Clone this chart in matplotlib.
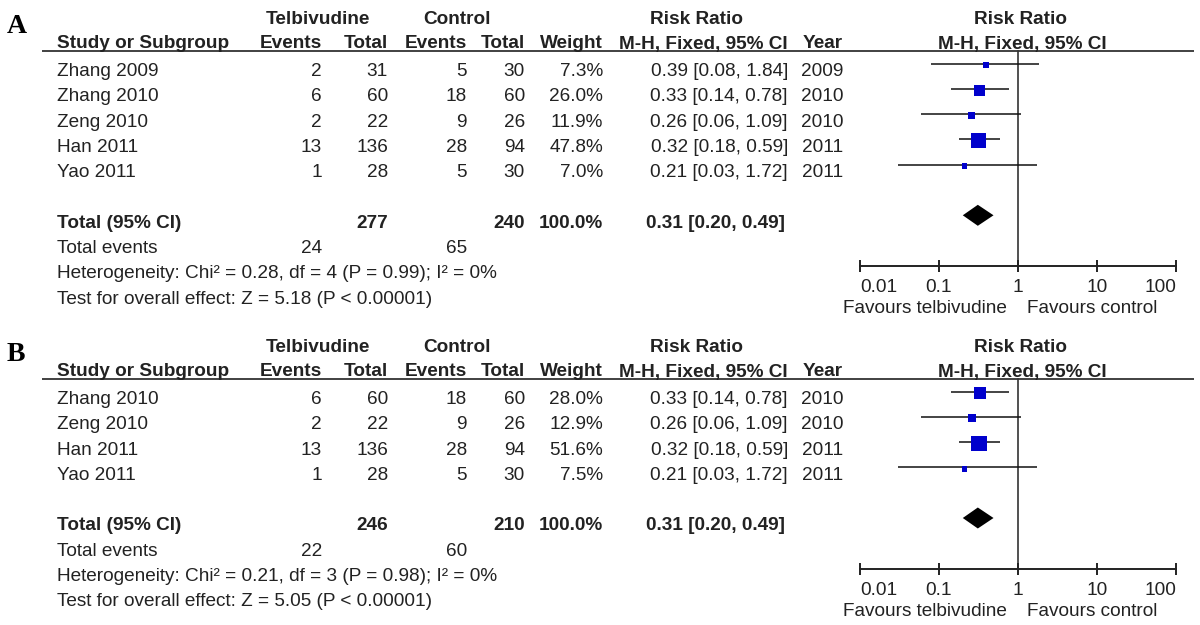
import numpy as np
import matplotlib
matplotlib.use("Agg")
import matplotlib.pyplot as plt
from matplotlib.ticker import FixedLocator, FixedFormatter, NullLocator

plt.rcParams['font.family'] = ['Liberation Sans', 'DejaVu Sans']

# Panel A data
a_studies = ["Zhang 2009", "Zhang 2010", "Zeng 2010", "Han 2011", "Yao 2011"]
a_tel_events = [2, 6, 2, 13, 1]
a_tel_total = [31, 60, 22, 136, 28]
a_ctl_events = [5, 18, 9, 28, 5]
a_ctl_total = [30, 60, 26, 94, 30]
a_weight = [7.3, 26.0, 11.9, 47.8, 7.0]
a_rr = [0.39, 0.33, 0.26, 0.32, 0.21]
a_lo = [0.08, 0.14, 0.06, 0.18, 0.03]
a_hi = [1.84, 0.78, 1.09, 0.59, 1.72]
a_year = [2009, 2010, 2010, 2011, 2011]
a_totals = [277, 240]
a_total_events = [24, 65]
a_pooled = [0.31, 0.20, 0.49]
a_het = "Heterogeneity: Chi² = 0.28, df = 4 (P = 0.99); I² = 0%"
a_test = "Test for overall effect: Z = 5.18 (P < 0.00001)"

# Panel B data
b_studies = ["Zhang 2010", "Zeng 2010", "Han 2011", "Yao 2011"]
b_tel_events = [6, 2, 13, 1]
b_tel_total = [60, 22, 136, 28]
b_ctl_events = [18, 9, 28, 5]
b_ctl_total = [60, 26, 94, 30]
b_weight = [28.0, 12.9, 51.6, 7.5]
b_rr = [0.33, 0.26, 0.32, 0.21]
b_lo = [0.14, 0.06, 0.18, 0.03]
b_hi = [0.78, 1.09, 0.59, 1.72]
b_year = [2010, 2010, 2011, 2011]
b_totals = [246, 210]
b_total_events = [22, 60]
b_pooled = [0.31, 0.20, 0.49]
b_het = "Heterogeneity: Chi² = 0.21, df = 3 (P = 0.98); I² = 0%"
b_test = "Test for overall effect: Z = 5.05 (P < 0.00001)"

tick_vals = [0.01, 0.1, 1, 10, 100]
tick_labels = ["0.01", "0.1", "1", "10", "100"]

W, H = 1200, 625
ROW0 = 63.5   # px from panel top to first study row
DY = 25.3     # px per row
TXT = 12.5 / DY  # text baseline below row line
FS = 13.65
COL = '#222222'

fig = plt.figure(figsize=(12, 6.25), dpi=100)


def draw_panel(letter, top_px, h_px, studies, te, tt, ce, ct, weight, rr, lo, hi,
               year, totals, tot_ev, pooled, het, test):
    n = len(studies)
    ylim = ((h_px - ROW0) / DY, -ROW0 / DY)
    pos_y = 1 - (top_px + h_px) / H
    head = -12.5 / DY  # header line

    # table axes, x in pixels, y in rows
    tb = fig.add_axes([0, pos_y, 1, h_px / H])
    tb.set_xlim(0, W)
    tb.set_ylim(*ylim)
    tb.axis('off')

    tb.text(7, -30.5 / DY, letter, fontsize=20, fontweight='bold',
            family='Liberation Serif', va='baseline', color='black')

    hb = dict(fontsize=FS, fontweight='bold', color=COL, va='baseline')
    r1 = -39.5 / DY
    r2 = -15.0 / DY
    tb.text(318, r1, "Telbivudine", ha='center', **hb)
    tb.text(457, r1, "Control", ha='center', **hb)
    tb.text(697, r1, "Risk Ratio", ha='center', **hb)
    tb.text(1020, r1, "Risk Ratio", ha='center', **hb)
    tb.text(57, r2, "Study or Subgroup", ha='left', **hb)
    tb.text(322, r2, "Events", ha='right', **hb)
    tb.text(388, r2, "Total", ha='right', **hb)
    tb.text(467, r2, "Events", ha='right', **hb)
    tb.text(525, r2, "Total", ha='right', **hb)
    tb.text(603, r2, "Weight", ha='right', **hb)
    tb.text(788, r2, "M-H, Fixed, 95% CI", ha='right', **hb)
    tb.text(843, r2, "Year", ha='right', **hb)
    tb.text(1022, r2, "M-H, Fixed, 95% CI", ha='center', **hb)
    tb.plot([42, 1194], [head, head], color='#333333', lw=1.3,
            solid_capstyle='butt')

    nb = dict(fontsize=FS, color=COL, va='baseline')
    for i in range(n):
        y = i + TXT
        tb.text(57, y, studies[i], ha='left', **nb)
        tb.text(322, y, str(te[i]), ha='right', **nb)
        tb.text(388, y, str(tt[i]), ha='right', **nb)
        tb.text(467, y, str(ce[i]), ha='right', **nb)
        tb.text(525, y, str(ct[i]), ha='right', **nb)
        tb.text(603, y, f"{weight[i]:.1f}%", ha='right', **nb)
        tb.text(788, y, f"{rr[i]:.2f} [{lo[i]:.2f}, {hi[i]:.2f}]", ha='right', **nb)
        tb.text(843, y, str(year[i]), ha='right', **nb)

    yt = n + 1 + TXT
    tb.text(57, yt, "Total (95% CI)", ha='left', **hb)
    tb.text(388, yt, str(totals[0]), ha='right', **hb)
    tb.text(525, yt, str(totals[1]), ha='right', **hb)
    tb.text(603, yt, "100.0%", ha='right', **hb)
    tb.text(785, yt, f"{pooled[0]:.2f} [{pooled[1]:.2f}, {pooled[2]:.2f}]",
            ha='right', **hb)
    tb.text(57, n + 2 + TXT, "Total events", ha='left', **nb)
    tb.text(322, n + 2 + TXT, str(tot_ev[0]), ha='right', **nb)
    tb.text(467, n + 2 + TXT, str(tot_ev[1]), ha='right', **nb)
    tb.text(57, n + 3 + TXT, het, ha='left', **nb)
    tb.text(57, n + 4 + TXT, test, ha='left', **nb)

    # forest axes
    ax = fig.add_axes([860 / W, pos_y, (1176 - 860) / W, h_px / H])
    ax.patch.set_alpha(0)
    ax.set_xscale('log')
    ax.set_xlim(0.01, 100)
    ax.set_ylim(*ylim)
    axis_row = n + 3
    for s in ['top', 'left', 'right']:
        ax.spines[s].set_visible(False)
    ax.spines['bottom'].set_position(('data', axis_row))
    ax.spines['bottom'].set_linewidth(1.4)
    ax.spines['bottom'].set_color('#222222')
    ax.yaxis.set_visible(False)
    ax.xaxis.set_major_locator(FixedLocator(tick_vals))
    ax.xaxis.set_major_formatter(FixedFormatter(tick_labels))
    ax.xaxis.set_minor_locator(NullLocator())
    ax.tick_params(axis='x', direction='inout', length=8.5, width=1.4,
                   color='#222222', labelsize=FS, labelcolor=COL, pad=5.5)
    labs = ax.get_xticklabels()
    labs[0].set_ha('left')
    labs[-1].set_ha('right')

    ax.plot([1, 1], [head, axis_row], color='#333333', lw=1.2, zorder=1)

    rows = np.arange(n)
    ax.hlines(rows, lo, hi, color='#111111', lw=1.1, zorder=2)
    ax.scatter(rr, rows + 0.06, marker='s', s=np.array(weight) * 2.4,
               color='#0000CC', linewidths=0, zorder=3)

    d = n + 1
    hh = 10.5 / DY
    ax.fill([pooled[1], pooled[0], pooled[2], pooled[0]],
            [d, d - hh, d, d + hh], color='black', lw=0, zorder=3)

    ax.annotate("Favours telbivudine", xy=(1, axis_row), xytext=(-8, -34),
                textcoords='offset points', ha='right', va='baseline',
                fontsize=FS, color=COL, annotation_clip=False)
    ax.annotate("Favours control", xy=(1, axis_row), xytext=(6.5, -34),
                textcoords='offset points', ha='left', va='baseline',
                fontsize=FS, color=COL, annotation_clip=False)


draw_panel("A", 0, 325, a_studies, a_tel_events, a_tel_total, a_ctl_events,
           a_ctl_total, a_weight, a_rr, a_lo, a_hi, a_year, a_totals,
           a_total_events, a_pooled, a_het, a_test)
draw_panel("B", 328, 297, b_studies, b_tel_events, b_tel_total, b_ctl_events,
           b_ctl_total, b_weight, b_rr, b_lo, b_hi, b_year, b_totals,
           b_total_events, b_pooled, b_het, b_test)

fig.savefig("out.png", dpi=100)
